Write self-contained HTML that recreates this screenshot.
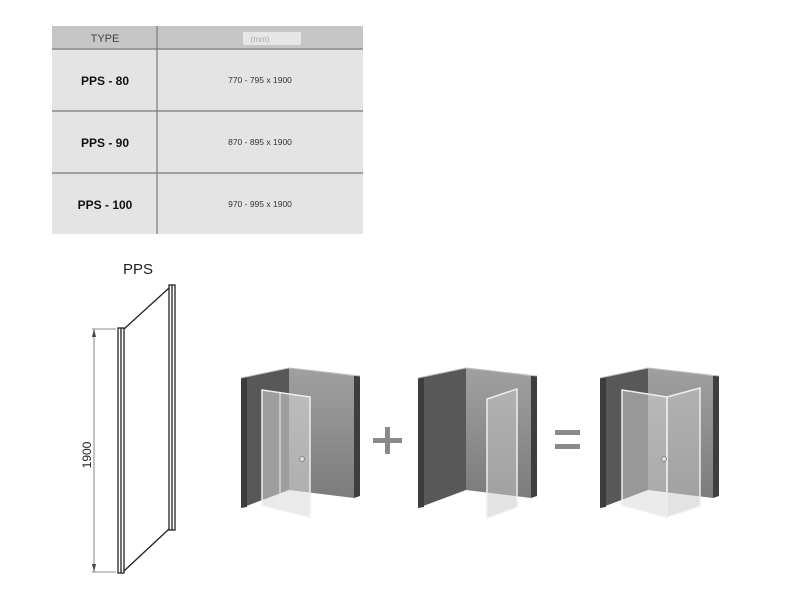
<!DOCTYPE html>
<html><head><meta charset="utf-8"><style>
body{margin:0;background:#fff;width:800px;height:600px;overflow:hidden;font-family:"Liberation Sans",sans-serif}
</style></head><body>
<svg width="800" height="600" xmlns="http://www.w3.org/2000/svg" font-family="Liberation Sans, sans-serif">
<!-- table -->
<rect x="52" y="26" width="311" height="208" fill="#e4e4e4"/>
<rect x="52" y="26" width="311" height="23" fill="#c6c6c6"/>
<rect x="243" y="32" width="58" height="13" fill="#e6e6e6"/>
<line x1="52" y1="49" x2="363" y2="49" stroke="#8a8a8a" stroke-width="1.5"/>
<line x1="52" y1="111" x2="363" y2="111" stroke="#8a8a8a" stroke-width="1.5"/>
<line x1="52" y1="173" x2="363" y2="173" stroke="#8a8a8a" stroke-width="1.5"/>
<line x1="157" y1="26" x2="157" y2="234" stroke="#7a7a7a" stroke-width="1.2"/>
<text x="105" y="42" font-size="11" text-anchor="middle" fill="#444">TYPE</text>
<text x="260" y="42" font-size="8" text-anchor="middle" fill="#aaa">(mm)</text>
<g font-size="12" font-weight="bold" text-anchor="middle" fill="#111">
<text x="105" y="85">PPS - 80</text><text x="105" y="147">PPS - 90</text><text x="105" y="209">PPS - 100</text></g>
<g font-size="8.5" text-anchor="middle" fill="#333">
<text x="260" y="83">770 - 795 x 1900</text><text x="260" y="145">870 - 895 x 1900</text><text x="260" y="207">970 - 995 x 1900</text></g>
<!-- PPS panel -->
<text x="138" y="274" font-size="15" text-anchor="middle" fill="#222">PPS</text>
<g fill="none" stroke="#222" stroke-width="1.3">
<rect x="118" y="328" width="6" height="245"/>
<line x1="121" y1="328" x2="121" y2="573"/>
<rect x="169" y="285" width="6" height="245"/>
<line x1="172" y1="285" x2="172" y2="530"/>
<line x1="124" y1="329" x2="169" y2="288"/>
<line x1="124" y1="571" x2="169" y2="529"/>
</g>
<g stroke="#666" stroke-width="0.8">
<line x1="94" y1="329" x2="94" y2="572"/>
<line x1="92" y1="329" x2="116" y2="329"/>
<line x1="92" y1="572" x2="116" y2="572"/>
</g>
<polygon points="94,329 92,337 96,337" fill="#444"/>
<polygon points="94,572 92,564 96,564" fill="#444"/>
<text transform="translate(91,455) rotate(-90)" font-size="12" text-anchor="middle" fill="#222">1900</text>
<!-- rooms -->
<defs>
<linearGradient id="rw" x1="0" y1="0" x2="0" y2="1"><stop offset="0" stop-color="#a0a0a0"/><stop offset="1" stop-color="#7c7c7c"/></linearGradient>
<g id="room">
<polygon points="0,10 48,0 48,122 0,140" fill="#585858"/>
<polygon points="0,10 6,9 6,139 0,140" fill="#3c3c3c"/>
<polygon points="48,0 113,8 113,130 48,122" fill="url(#rw)"/>
<polygon points="113,8 119,8 119,128 113,130" fill="#3e3e3e"/>
<polyline points="0,10 48,0 119,8" fill="none" stroke="#bbb" stroke-width="1"/>
</g>
</defs>
<use href="#room" x="241" y="368"/>
<use href="#room" x="418" y="368"/>
<use href="#room" x="600" y="368"/>
<!-- door room1 -->
<polygon points="262,390 310,397 310,517 262,505" fill="#d8d8d8" fill-opacity="0.55" stroke="#eee" stroke-width="1.5"/>
<line x1="280" y1="393" x2="280" y2="509" stroke="#eee" stroke-width="1"/>
<circle cx="302" cy="459" r="2.5" fill="#ddd" stroke="#888"/>
<!-- panel room2 -->
<polygon points="487,399 517,389 517,507 487,518" fill="#c8c8c8" fill-opacity="0.5" stroke="#eee" stroke-width="1.5"/>
<!-- room3 -->
<polygon points="622,390 667,397 667,517 622,505" fill="#d8d8d8" fill-opacity="0.5" stroke="#eee" stroke-width="1.5"/>
<polygon points="667,397 700,388 700,506 667,517" fill="#c8c8c8" fill-opacity="0.5" stroke="#eee" stroke-width="1.5"/>
<circle cx="664" cy="459" r="2.5" fill="#ddd" stroke="#888"/>
<!-- operators -->
<rect x="373" y="438" width="29" height="5" fill="#8a8a8a"/>
<rect x="385" y="427" width="5" height="27" fill="#8a8a8a"/>
<rect x="555" y="430" width="25" height="5" fill="#8a8a8a"/>
<rect x="555" y="444" width="25" height="5" fill="#8a8a8a"/>
</svg>
</body></html>
